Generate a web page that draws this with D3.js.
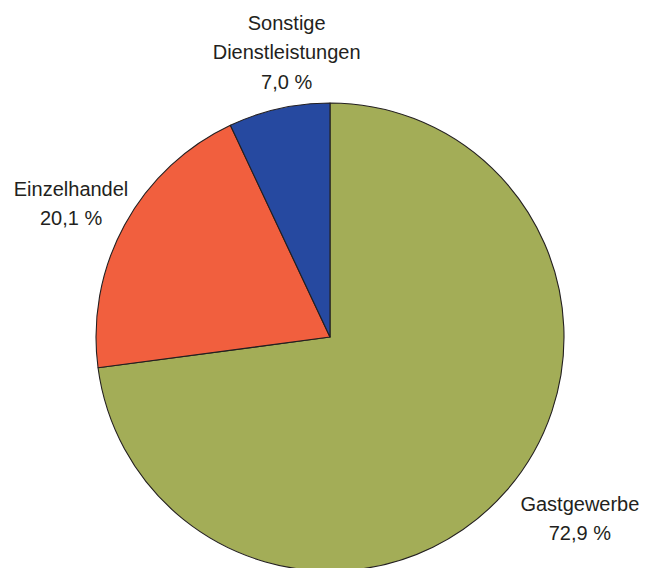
<!DOCTYPE html>
<html>
<head>
<meta charset="utf-8">
<script src="https://cdn.jsdelivr.net/npm/d3@7"></script>
<style>
  html, body { margin: 0; padding: 0; background: #fff; }
  svg text { font-family: Arial, "Liberation Sans", sans-serif; fill: #231f20; }
</style>
</head>
<body>
<svg id="chart"></svg>
<script>
var categories = [["Gastgewerbe"], ["Einzelhandel"], ["Sonstige", "Dienstleistungen"]],
    values = [72.9, 20.1, 7.0],
    valueLabels = ["72,9 %", "20,1 %", "7,0 %"],
    colors = ["#a3ad57", "#f15f3e", "#2649a0"];

var width = 658,
    height = 568,
    cx = 330,
    cy = 337,
    radius = 234,
    labelRadius = 295,
    lineHeight = 29.5,
    // label nudges relative to the label arc centroid
    nudges = [[28, -13], [0, 8], [21, 3]];

var svg = d3.select("#chart")
    .attr("width", width)
    .attr("height", height);

var g = svg.append("g")
    .attr("transform", "translate(" + cx + "," + cy + ")");

var pie = d3.pie().sort(null).value(function(d) { return d; });
var arcs = pie(values);

var arc = d3.arc().innerRadius(0).outerRadius(radius);
var labelArc = d3.arc().innerRadius(labelRadius).outerRadius(labelRadius);

g.selectAll("path.slice")
    .data(arcs)
    .enter()
    .append("path")
    .attr("class", "slice")
    .attr("d", arc)
    .attr("fill", function(d, i) { return colors[i]; })
    .attr("stroke", "#231f20")
    .attr("stroke-width", 1.1)
    .attr("stroke-linejoin", "round");

var labels = g.selectAll("text.label")
    .data(arcs)
    .enter()
    .append("text")
    .attr("class", "label")
    .attr("text-anchor", "middle")
    .style("font-size", "20px")
    .each(function(d, i) {
        var c = labelArc.centroid(d),
            lines = categories[i].concat([valueLabels[i]]),
            x = c[0] + nudges[i][0],
            y0 = c[1] + nudges[i][1] - (lines.length - 1) * lineHeight / 2 + 7;
        var t = d3.select(this);
        lines.forEach(function(line, j) {
            t.append("tspan")
                .attr("x", x)
                .attr("y", y0 + j * lineHeight)
                .text(line);
        });
    });
</script>
</body>
</html>
